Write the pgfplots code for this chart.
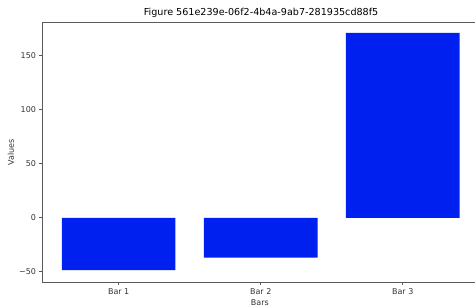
\documentclass[border=0pt]{standalone}
\usepackage{pgfplots}
\pgfplotsset{compat=1.18}
\usepackage{fontspec}
\setmainfont{DejaVu Sans}
\definecolor{barblue}{RGB}{0,32,240}
\definecolor{spine}{RGB}{90,90,90}
\begin{document}
\begin{tikzpicture}
\begin{axis}[
 name=ax,
 scale only axis, width=433pt, height=260.7pt,
 xmin=-0.54, xmax=2.509, ymin=-60.1, ymax=181.2,
 axis x line*=bottom, axis y line*=left,
 axis line style={spine, line width=0.6pt},
 xtick={0,1,2}, xticklabels={Bar 1,Bar 2,Bar 3},
 ytick={-50,0,50,100,150}, yticklabels={−50,0,50,100,150},
 tick align=outside, major tick length=2.5pt,
 tick style={spine, line width=0.6pt},
 ticklabel style={font=\fontsize{8}{9.5}\selectfont, text=black!80},
 xlabel={Bars}, ylabel={Values},
 label style={font=\fontsize{8}{9.5}\selectfont, text=black!80},
 xlabel style={at={(axis description cs:0.503,0)}, anchor=center, yshift=-20pt},
 ylabel style={at={(axis description cs:-0.072,0.5)}, anchor=center},
 title={Figure 561e239e-06f2-4b4a-9ab7-281935cd88f5},
 title style={font=\fontsize{9.6}{11}\selectfont, at={(axis description cs:0.506,1)}, anchor=south, yshift=-5pt},
 clip=false,
]
\addplot[ybar, bar width=0.8, fill=barblue, draw=none] coordinates {(0,-48.5) (1,-36.8) (2,171.2)};
\draw[spine, line width=0.6pt] (rel axis cs:0,1) -- (rel axis cs:1,1);
\end{axis}
\pgfresetboundingbox
\path[use as bounding box] ([xshift=-42pt,yshift=-23.3pt]ax.south west) rectangle ([yshift=22pt]ax.north east);
\end{tikzpicture}
\end{document}
